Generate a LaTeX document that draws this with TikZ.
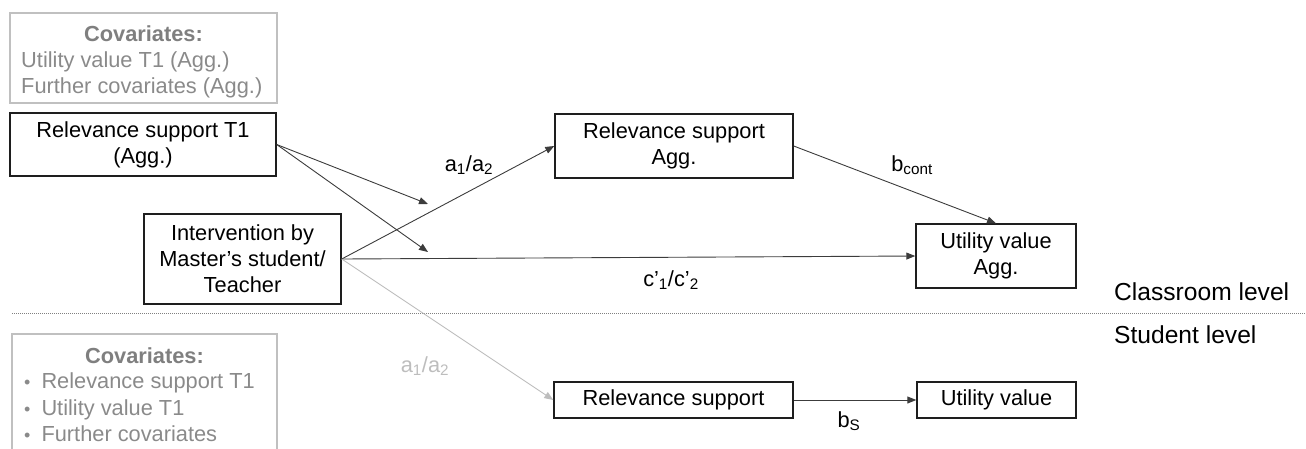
\documentclass[tikz,border=0pt]{standalone}
\usepackage{fontspec}
\setmainfont{Liberation Sans}
\usetikzlibrary{arrows.meta}

\definecolor{boxline}{HTML}{1E1E1E}
\definecolor{arrowline}{HTML}{3C3C3C}
\definecolor{covtitle}{HTML}{7F7F7F}
\definecolor{covtext}{HTML}{8A8A8A}
\definecolor{covframe}{HTML}{C0C0C0}
\definecolor{lightpath}{HTML}{BDBDBD}
\definecolor{divider}{HTML}{808080}

\newcommand{\covbullet}{{\fontsize{18}{26}\selectfont •}\hspace{11pt}}

\begin{document}
\begin{tikzpicture}[x=1pt,y=-1pt,
  txt/.style={font=\fontsize{21.8}{26}\selectfont, inner sep=0pt},
  varbox/.style={txt, draw=boxline, line width=1.4pt, align=center},
  covbox/.style={draw=covframe, line width=1.4pt, inner sep=0pt},
  covhead/.style={txt, text=covtitle, font=\fontsize{21.8}{26}\selectfont\bfseries, anchor=base},
  covline/.style={txt, text=covtext, anchor=base west},
  conn/.style={draw=arrowline, line width=0.9pt, -{Triangle[length=9pt,width=7pt]}},
  lightconn/.style={conn, draw=lightpath, -{Triangle[length=9pt,width=7pt,fill=lightpath]}},
  lbl/.style={txt},
  level/.style={font=\fontsize{24.6}{29}\selectfont, inner sep=0pt, anchor=base west}]

\useasboundingbox (0,0) rectangle (1306,448);

% ---------- classroom level ----------
\node[covbox, minimum width=267pt, minimum height=90pt] (covA) at (143.5,58) {};
\node[covhead] (covAh) at (covA.center |- 0,41) {Covariates:};
\node[covline] (covA1) at (21,67) {Utility value T1 (Agg.)};
\node[covline] (covA2) at (21,93) {Further covariates (Agg.)};

\node[varbox, minimum width=266pt, minimum height=63pt] (t1) at (143,144.5)
  {Relevance support T1\\(Agg.)};
\node[varbox, minimum width=197pt, minimum height=90pt] (int) at (242.5,259)
  {Intervention by\\Master’s student/\\Teacher};
\node[varbox, minimum width=238pt, minimum height=64pt] (ragg) at (674,146)
  {Relevance support\\Agg.};
\node[varbox, minimum width=160pt, minimum height=64pt] (uagg) at (996,256)
  {Utility value\\Agg.};

% moderation arrows pointing at the a and c' paths
\coordinate (modA) at (428,204);
\coordinate (modC) at (428,252);
\draw[conn] (t1.east) -- (modA);
\draw[conn] (t1.east) -- (modC);

\draw[conn] (int.east) -- (ragg.west);
\draw[conn] (int.east) -- (uagg.west);
\draw[conn] (ragg.east) -- (uagg.north);

\node[lbl] (la) at (469,165) {a\textsubscript{1}/a\textsubscript{2}};
\node[lbl] (lb) at (912,165) {b\textsubscript{cont}};
\node[lbl] (lc) at (671,280) {c’\textsubscript{1}/c’\textsubscript{2}};

% ---------- level divider ----------
\coordinate (divL) at (12,313);
\coordinate (divR) at (1306,313);
\draw[draw=divider, line width=1pt, dash pattern=on 1pt off 1pt] (divL) -- (divR);
\node[level] (lvc) at (1114,300) {Classroom level};
\node[level] (lvs) at (1114,343) {Student level};

% ---------- student level ----------
\node[covbox, minimum width=265pt, minimum height=122pt] (covB) at (144.5,395) {};
\node[covhead] (covBh) at (covB.center |- 0,363) {Covariates:};
\node[covline] (covB1) at (24,388) {\covbullet Relevance support T1};
\node[covline] (covB2) at (24,415) {\covbullet Utility value T1};
\node[covline] (covB3) at (24,441) {\covbullet Further covariates};

\node[varbox, minimum width=239pt, minimum height=36pt] (rs) at (673.5,400) {Relevance support};
\node[varbox, minimum width=159pt, minimum height=36pt] (us) at (996.5,400) {Utility value};

\draw[lightconn] (int.east) -- (rs.west);
\draw[conn] (rs.east) -- (us.west);

\node[lbl, text=lightpath] (la2) at (425,366) {a\textsubscript{1}/a\textsubscript{2}};
\node[lbl] (lbs) at (849,421) {b\textsubscript{S}};

\end{tikzpicture}
\end{document}
